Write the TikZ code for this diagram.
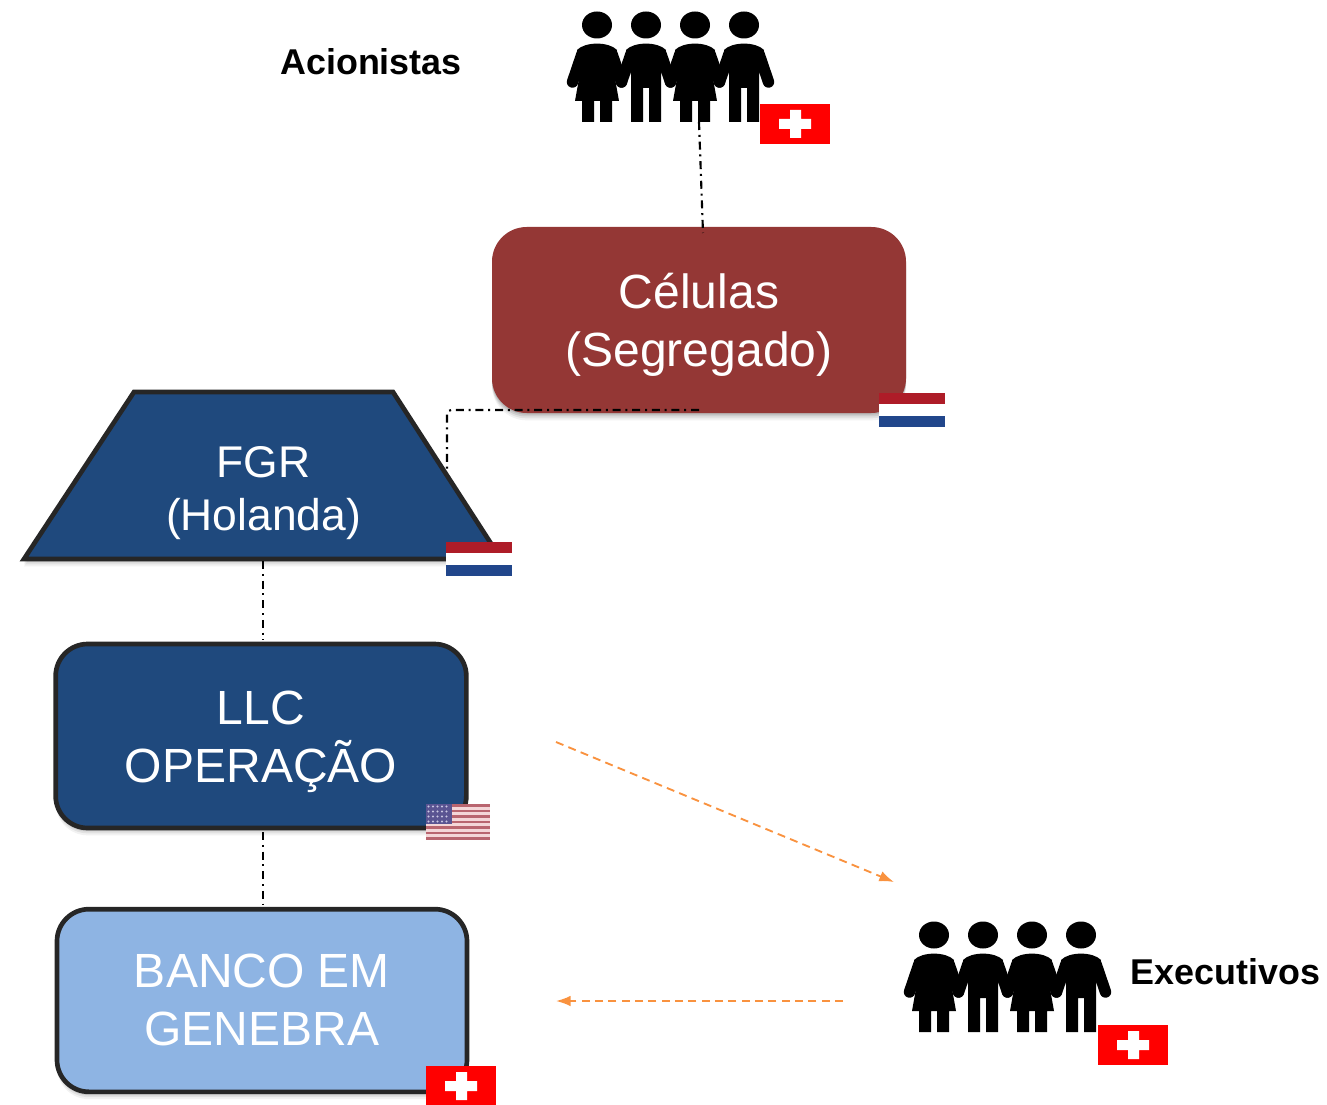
\documentclass[tikz,border=0pt]{standalone}
\usepackage{fontspec}
\setmainfont{Liberation Sans}
\usetikzlibrary{shapes.geometric,shadows,arrows.meta}
\definecolor{cellred}{HTML}{943735}
\definecolor{navy}{HTML}{1F497D}
\definecolor{paleblue}{HTML}{8EB4E3}
\definecolor{edgedark}{HTML}{262626}
\definecolor{orangeln}{HTML}{F9923F}
\definecolor{swissred}{HTML}{FF0000}
\definecolor{nlred}{HTML}{AE1C28}
\definecolor{nlblue}{HTML}{21468B}
\definecolor{usstripe}{HTML}{B9656F}
\definecolor{uspale}{HTML}{F4D6D8}
\definecolor{uscanton}{HTML}{5A5492}
\definecolor{usstar}{HTML}{C9C6E2}
\tikzset{
  softshadow/.style={
    general shadow={fill=black,opacity=.10,shadow yshift=-1.2pt},
    general shadow={fill=black,opacity=.09,shadow yshift=-2.6pt},
    general shadow={fill=black,opacity=.07,shadow yshift=-4pt},
    general shadow={fill=black,opacity=.05,shadow yshift=-5.5pt}},
  bigtext/.style={text=white,align=center,font=\fontsize{36}{43.5}\selectfont},
  boxnode/.style={rectangle,rounded corners=24pt,draw=edgedark,line width=3.5pt,softshadow,bigtext,inner sep=0pt},
  owner/.style={font=\bfseries\fontsize{26.9}{32}\selectfont,text=black},
  linkline/.style={draw=black,line width=1.6pt,dash pattern=on 6pt off 3.6pt on 1.5pt off 3.6pt},
  flowline/.style={draw=orangeln,line width=1.4pt,dash pattern=on 6pt off 4pt,-{Latex[length=11pt,width=8pt]}},
  armline/.style={line width=8.6pt,line cap=round,draw=black},
  womanfig/.pic={
    \fill[black] (0,0) ellipse[x radius=15,y radius=13.5];
    \fill[black] (-20,25) .. controls (-12,16.5) and (12,16.5) .. (20,25) -- (17,48) -- (22,76) -- (15,76) -- (15,97) -- (3,97) -- (3,76) -- (-3,76) -- (-3,97) -- (-15,97) -- (-15,76) -- (-22,76) -- (-17,48) -- cycle;
    \draw[armline] (-15,29) -- (-24.5,57);
    \draw[armline] (15,29) -- (24.5,57);
  },
  manfig/.pic={
    \fill[black] (0,0) ellipse[x radius=15,y radius=13.5];
    \fill[black] (-20,25) .. controls (-12,16.5) and (12,16.5) .. (20,25) -- (15,50) -- (15,97) -- (3,97) -- (3,63) -- (-3,63) -- (-3,97) -- (-15,97) -- (-15,50) -- cycle;
    \draw[armline] (-15,29) -- (-24.5,57);
    \draw[armline] (15,29) -- (24.5,57);
  },
  crowd/.pic={
    \pic at (0,0) {womanfig};
    \pic at (49,0) {manfig};
    \pic at (98,0) {womanfig};
    \pic at (147,0) {manfig};
  },
  swissflag/.pic={
    \fill[swissred] (0,0) rectangle (70,40);
    \fill[white] (30,15) -- (30,6) -- (41,6) -- (41,15) -- (51,15) -- (51,25) -- (41,25) -- (41,34) -- (30,34) -- (30,25) -- (19,25) -- (19,15) -- cycle;
  },
  dutchflag/.pic={
    \fill[nlred] (0,0) rectangle (66,11.3);
    \fill[white] (0,11.3) rectangle (66,22.6);
    \fill[nlblue] (0,22.6) rectangle (66,34);
  },
  usflag/.pic={
    \fill[uspale] (0,0) rectangle (64,36);
    \foreach \s in {0,2,...,12} {
      \fill[usstripe] (0,{\s*36/13}) rectangle (64,{(\s+1)*36/13});
    }
    \fill[uscanton] (0,0) rectangle (26,20);
    \foreach \r in {2.5,7.5,...,17.5} {
      \foreach \c in {2.5,7,...,24} {
        \fill[usstar] (\c,\r) circle[radius=1.2];
      }
    }
  }
}
\begin{document}
\begin{tikzpicture}[x=.75pt,y=-.75pt]
\useasboundingbox (0,0) rectangle (1327,1105);

% boxes
\node[rectangle,rounded corners=26pt,fill=cellred,softshadow,bigtext,minimum width=310.5pt,minimum height=139.5pt,inner sep=0pt] (celulas) at (699,320) {\rule{0pt}{34pt}Células\\(Segregado)};
\path[fill=navy,draw=edgedark,line width=3.5pt,line join=miter,softshadow] (134,392) -- (393,392) -- (501,559) -- (24,559) -- cycle;
\node[text=white,align=center,font=\fontsize{33.3}{39.75}\selectfont] (fgr) at (263.5,493) {FGR\\(Holanda)};
\node[boxnode,fill=navy,minimum width=308pt,minimum height=138pt] (llc) at (261,736) {\rule{0pt}{33.5pt}LLC\\OPERAÇÃO};
\node[boxnode,fill=paleblue,minimum width=307.5pt,minimum height=137pt] (banco) at (262,1000.5) {BANCO EM\\GENEBRA\rule[-1.5pt]{0pt}{1pt}};

% labels
\node[owner] (acionistas) at (371,62) {Acionistas};
\node[owner] (executivos) at (1225.5,972) {Executivos};

% people
\pic at (597,25) {crowd};
\pic at (934,935) {crowd};

% flags
\pic at (760,104) {swissflag};
\pic at (879,393) {dutchflag};
\pic at (446,542) {dutchflag};
\pic at (426,804) {usflag};
\pic at (426,1066) {swissflag};
\pic at (1098,1025) {swissflag};

% connector ends
\coordinate (crowdfoot) at (699,122);
\coordinate (celtop) at (703,233);
\coordinate (celbase) at (699,410);
\coordinate (fgrtop) at (447,472);
\coordinate (fgrbase) at (263,561);
\coordinate (llctop) at (263,640);
\coordinate (llcbase) at (263,832);
\coordinate (bancotop) at (263,905);
\coordinate (flowa) at (556,742);
\coordinate (flowb) at (894,882);
\coordinate (flowc) at (843,1001);
\coordinate (flowd) at (556,1001);

\draw[linkline] (crowdfoot) -- (celtop);
\draw[linkline,rounded corners=3pt] (celbase) -| (fgrtop);
\draw[linkline] (fgrbase) -- (llctop);
\draw[linkline] (llcbase) -- (bancotop);
\draw[flowline] (flowa) -- (flowb);
\draw[flowline] (flowc) -- (flowd);
\end{tikzpicture}
\end{document}
